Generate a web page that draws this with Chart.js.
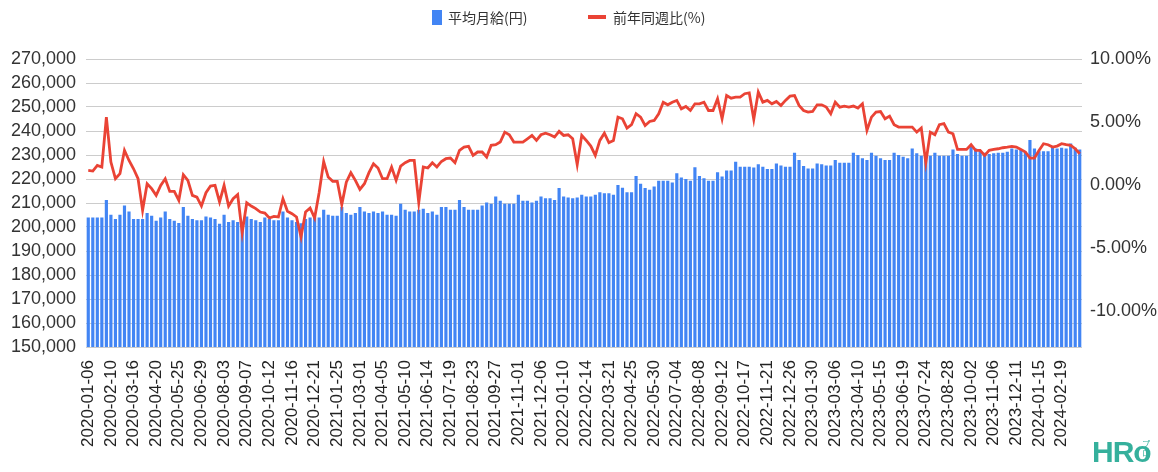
<!DOCTYPE html>
<html lang="ja">
<head>
<meta charset="utf-8">
<title>平均月給と前年同週比</title>
<script src="https://cdn.jsdelivr.net/npm/chart.js@4.4.1/dist/chart.umd.min.js"></script>
<style>
  html, body { margin: 0; padding: 0; background: #fff; }
  #wrap { position: relative; width: 1158px; height: 472px; }
  #legend { position: absolute; top: 0; left: 0; width: 100%; height: 34px;
    font: 14px "Noto Sans CJK JP", sans-serif; color: #333; }
  .lg-text { position: absolute; top: 7px; line-height: 20px; }
  .lg-swatch { position: absolute; }
  #logo { position: absolute; left: 1092px; top: 436px; font: bold 30px Arial, sans-serif;
    color: #35b09c; letter-spacing: -1px; line-height: 32px; }
  #logo span { position: absolute; left: 50px; top: 3px; font: 8px "Noto Sans CJK JP", sans-serif;
    letter-spacing: 0; line-height: 9px; }
</style>
</head>
<body>
<div id="wrap">
  <canvas id="chart"></canvas>
  <div id="legend">
    <span class="lg-swatch" style="left:432px; top:10px; width:10px; height:15px; background:#4285F4"></span>
    <span class="lg-text" style="left:448px">平均月給(円)</span>
    <span class="lg-swatch" style="left:588px; top:15px; width:18px; height:4px; background:#EA4335"></span>
    <span class="lg-text" style="left:613px">前年同週比(%)</span>
  </div>
  <div id="logo">HRo<span>プロ</span></div>
</div>
<script>
// weekly average monthly wage (yen), one value per week starting 2020-01-06
const avgWage = [
  204000, 204000, 204000, 204000, 211300, 205100, 203300, 205100, 209000, 206500,
  203300, 203300, 203300, 205800, 204700, 202600, 204000, 206500, 203300, 202600,
  201700, 208300, 204700, 203300, 202800, 202800, 204400, 204000, 203300, 201400,
  205100, 202100, 202800, 202100, 202100, 204400, 203300, 202800, 202100, 204000,
  203300, 202800, 202800, 206500, 204000, 202800, 202100, 201600, 203300, 204000,
  204000, 204000, 207200, 205100, 204700, 204700, 208300, 205800, 205100, 205800,
  208300, 206500, 205800, 206500, 205800, 206500, 205100, 205100, 204700, 209700,
  207200, 206500, 206500, 207200, 207600, 205800, 206500, 205100, 208300, 208300,
  207200, 207200, 211300, 208300, 207200, 207200, 207200, 209000, 210200, 209700,
  212700, 210900, 209700, 209700, 209700, 213400, 210900, 210900, 210200, 210900,
  212700, 212000, 212000, 211300, 216200, 212700, 212300, 212000, 212300, 213400,
  212700, 212700, 213400, 214500, 214100, 214100, 213400, 217500, 216400, 214500,
  214500, 221300, 218000, 216200, 215500, 216900, 219300, 219300, 219300, 218500,
  222400, 220600, 220000, 219300, 224900, 221300, 220300, 219300, 219300, 222800,
  221000, 223500, 223500, 227200, 225100, 225100, 225100, 224800, 226100, 225100,
  224200, 224200, 226500, 225600, 225100, 225100, 230900, 227900, 225400, 224400,
  224400, 226500, 226100, 225600, 225600, 227900, 226800, 226800, 226800, 230900,
  230000, 228600, 227900, 230900, 229700, 228600, 227900, 227900, 230900, 230000,
  229300, 228600, 232700, 230700, 229700, 229300, 229700, 230900, 229700, 229700,
  229700, 232300, 230400, 229700, 229700, 234100, 232700, 232000, 230900, 230400,
  230700, 230900, 230900, 231400, 232700, 232300, 232300, 231400, 236200, 232700,
  231600, 231600, 231600, 233000, 232700, 233000, 232700, 234800, 233000, 232300
];

// change vs same week of previous year (%)
const yoyRate = [
  1.15, 1.10, 1.55, 1.42, 5.38, 1.81, 0.49, 0.89, 2.74, 1.94,
  1.28, 0.49, -2.02, 0.09, -0.30, -0.83, -0.04, 0.49, -0.52, -0.52,
  -1.23, 0.81, 0.36, -0.83, -0.97, -1.68, -0.62, -0.09, -0.04, -1.36,
  -0.04, -1.68, -1.10, -0.78, -3.80, -1.42, -1.68, -1.89, -2.16, -2.24,
  -2.63, -2.50, -2.55, -1.10, -2.10, -2.29, -2.55, -4.14, -2.16, -1.84,
  -2.63, -0.60, 1.86, 0.62, 0.28, 0.28, -1.57, 0.22, 0.97, 0.36,
  -0.36, 0.09, 0.97, 1.68, 1.34, 0.49, 0.49, 1.42, 0.36, 1.49,
  1.76, 1.94, 1.94, -1.40, 1.42, 1.34, 1.76, 1.42, 1.86, 2.08,
  2.13, 1.76, 2.74, 3.00, 3.06, 2.34, 2.61, 2.61, 2.21, 3.14,
  3.19, 3.40, 4.19, 3.98, 3.40, 3.40, 3.40, 3.66, 3.93, 3.53,
  3.98, 4.11, 3.98, 3.80, 4.25, 3.93, 3.98, 3.66, 1.60, 3.93,
  3.53, 3.08, 2.34, 3.53, 4.11, 3.35, 3.53, 5.38, 5.25, 4.51,
  4.78, 5.65, 5.38, 4.72, 5.04, 5.12, 5.65, 6.57, 6.36, 6.57,
  6.71, 6.04, 6.23, 5.91, 6.44, 6.44, 6.57, 5.91, 5.91, 6.84,
  5.25, 7.10, 6.89, 6.97, 6.97, 7.24, 7.31, 5.20, 7.37, 6.57,
  6.71, 6.44, 6.63, 6.31, 6.71, 7.05, 7.10, 6.31, 5.91, 5.78,
  5.83, 6.36, 6.36, 6.18, 5.65, 6.57, 6.18, 6.26, 6.18, 6.26,
  6.10, 6.44, 4.33, 5.38, 5.78, 5.83, 5.25, 5.46, 4.78, 4.59,
  4.59, 4.59, 4.59, 4.19, 4.51, 1.76, 4.19, 3.98, 4.78, 4.86,
  4.19, 4.06, 2.82, 2.82, 2.82, 3.19, 2.74, 2.74, 2.34, 2.74,
  2.82, 2.87, 2.95, 3.00, 3.06, 3.00, 2.82, 2.61, 2.13, 2.13,
  2.74, 3.27, 3.19, 3.00, 3.08, 3.27, 3.19, 3.14, 2.87, 2.47
];

// week labels (Mondays), shown every 5th week
const firstWeek = Date.UTC(2020, 0, 6);
const weeks = avgWage.map((_, i) =>
  new Date(firstWeek + i * 7 * 86400000).toISOString().slice(0, 10));
const labelEvery = 5;

// axis ranges
const wageAxis = { min: 150000, max: 270000, step: 10000 };
const rateAxis = { min: -12.88, max: 10, step: 5 };

Chart.defaults.font.family = 'Arial, "Liberation Sans", sans-serif';

const ctx = document.getElementById('chart').getContext('2d');
new Chart(ctx, {
  type: 'bar',
  data: {
    labels: weeks,
    datasets: [
      {
        type: 'line',
        label: '前年同週比(%)',
        data: yoyRate,
        yAxisID: 'yRate',
        borderColor: '#EA4335',
        backgroundColor: '#EA4335',
        borderWidth: 2.8,
        pointRadius: 0,
        tension: 0,
        order: 0
      },
      {
        type: 'bar',
        label: '平均月給(円)',
        data: avgWage,
        yAxisID: 'yWage',
        backgroundColor: '#4285F4',
        barPercentage: 0.7,
        categoryPercentage: 1,
        order: 1
      }
    ]
  },
  options: {
    responsive: true,
    maintainAspectRatio: false,
    animation: false,
    layout: { padding: { top: 59, left: 0, right: 0, bottom: 0 } },
    plugins: {
      legend: { display: false },
      tooltip: { enabled: false }
    },
    scales: {
      x: {
        grid: { display: false },
        border: { display: false },
        ticks: {
          autoSkip: false,
          minRotation: 90,
          maxRotation: 90,
          padding: 5,
          color: '#222',
          font: { size: 17 },
          callback: function(value, index) {
            return index % labelEvery === 0 ? this.getLabelForValue(value) : '';
          }
        },
        afterFit: (scale) => { scale.height = 125; }
      },
      yWage: {
        position: 'left',
        min: wageAxis.min,
        max: wageAxis.max,
        grid: { color: '#cccccc', drawTicks: false },
        border: { display: false },
        ticks: {
          stepSize: wageAxis.step,
          autoSkip: false,
          padding: 10,
          color: '#333',
          font: { size: 18 },
          callback: (v) => v.toLocaleString('en-US')
        },
        afterFit: (scale) => { scale.width = 86; }
      },
      yRate: {
        position: 'right',
        min: rateAxis.min,
        max: rateAxis.max,
        grid: { display: false, drawTicks: false },
        border: { display: false },
        ticks: {
          stepSize: rateAxis.step,
          includeBounds: false,
          autoSkip: false,
          padding: 8,
          color: '#333',
          font: { size: 18 },
          callback: (v) => v.toFixed(2) + '%'
        },
        afterFit: (scale) => { scale.width = 76; }
      }
    }
  }
});
</script>
</body>
</html>
